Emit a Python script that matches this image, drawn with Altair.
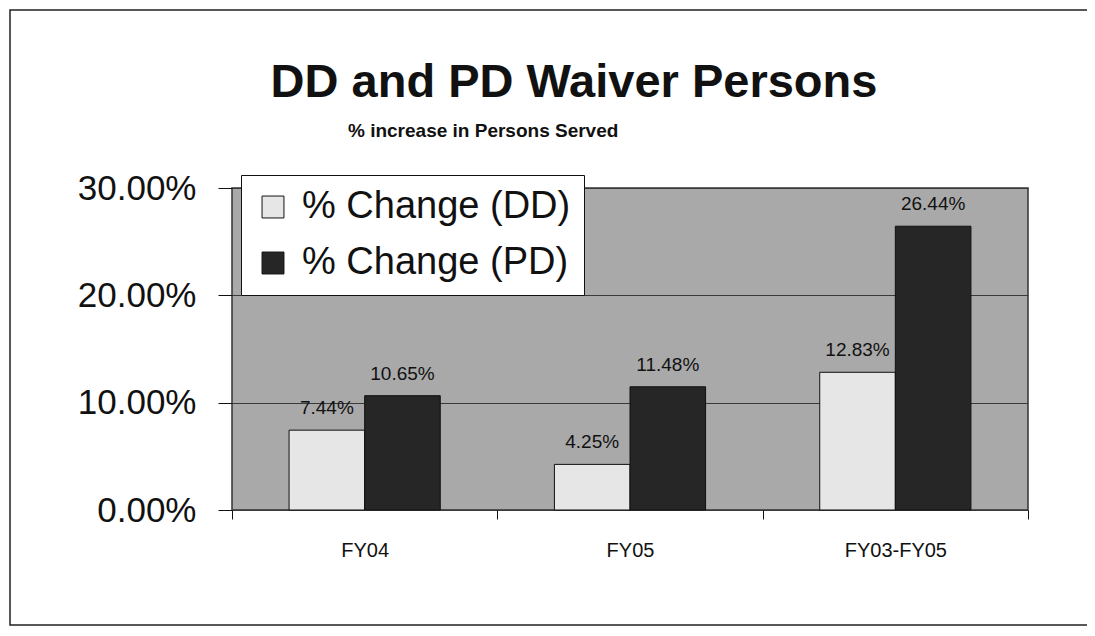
import altair as alt
import pandas as pd

TITLE = "DD and PD Waiver Persons"
SUBTITLE = "% increase in Persons Served"
categories = ["FY04", "FY05", "FY03-FY05"]
series_names = ["% Change (DD)", "% Change (PD)"]
dd_values = [0.0744, 0.0425, 0.1283]
pd_values = [0.1065, 0.1148, 0.2644]
y_ticks = [0.0, 0.10, 0.20, 0.30]

rows = []
for c, v in zip(categories, dd_values):
    rows.append({"cat": c, "series": series_names[0], "value": v})
for c, v in zip(categories, pd_values):
    rows.append({"cat": c, "series": series_names[1], "value": v})
df = pd.DataFrame(rows)

FONT = "Liberation Sans"

x = alt.X("cat:N", sort=categories, title=None,
          scale=alt.Scale(paddingInner=0, paddingOuter=0),
          axis=alt.Axis(labelAngle=0, labelFontSize=20, labelFont=FONT, labelColor="#111",
                        tickBand="extent", tickSize=9, tickColor="#111", domain=False,
                        labelPadding=21, grid=False))
xoff = alt.XOffset("series:N", sort=series_names,
                   scale=alt.Scale(paddingInner=0, paddingOuter=0.755))
y = alt.Y("value:Q", title=None,
          scale=alt.Scale(domain=[0, 0.30], nice=False, zero=True),
          axis=alt.Axis(values=y_ticks, format=".2%", labelFontSize=35, labelFont=FONT,
                        labelColor="#111", tickSize=14, tickColor="#111", labelPadding=22,
                        domain=False, grid=True, gridColor="#3a3a3a", gridWidth=1))

base = alt.Chart(df)

bars = base.mark_bar(stroke="#111", strokeWidth=1).encode(
    x=x, xOffset=xoff, y=y,
    color=alt.Color("series:N", sort=series_names,
                    scale=alt.Scale(domain=series_names, range=["#e6e6e6", "#262626"]),
                    legend=alt.Legend(title=None, orient="none", legendX=9, legendY=-13,
                                      direction="vertical", labelFontSize=38, labelFont=FONT,
                                      labelColor="#111", labelLimit=0, symbolType="square",
                                      symbolSize=480,
                                      symbolStrokeColor="#111", symbolStrokeWidth=1,
                                      labelOffset=10, rowPadding=18, padding=13,
                                      fillColor="white", strokeColor="#111"))
)

labels = base.mark_text(baseline="bottom", dy=-12, fontSize=19, font=FONT, color="#111").encode(
    x=x, xOffset=xoff, y=y,
    text=alt.Text("value:Q", format=".2%")
)

border = alt.Chart(pd.DataFrame({"a": [0]})).mark_rect(
    fill="transparent", stroke="#222", strokeWidth=1.5
).encode(x=alt.value(-222), x2=alt.value(858), y=alt.value(-178), y2=alt.value(437))

title = alt.Chart(pd.DataFrame({"t": [TITLE]})).mark_text(
    fontSize=47, fontWeight="bold", font=FONT, align="center", baseline="alphabetic", color="#111"
).encode(text="t:N", x=alt.value(342), y=alt.value(-91))

subtitle = alt.Chart(pd.DataFrame({"t": [SUBTITLE]})).mark_text(
    fontSize=19, fontWeight="bold", font=FONT, align="left", baseline="alphabetic", color="#111"
).encode(text="t:N", x=alt.value(116), y=alt.value(-51))

chart = alt.layer(border, bars, labels, title, subtitle).properties(
    width=796, height=322,
    autosize=alt.AutoSizeParams(type="none"),
    padding={"left": 224, "top": 180, "right": 59, "bottom": 118},
    background="white",
).configure_view(fill="#a9a9a9", stroke="#333", strokeWidth=1.5)

chart.save("out.html", embed_options={"renderer": "svg", "actions": False})
